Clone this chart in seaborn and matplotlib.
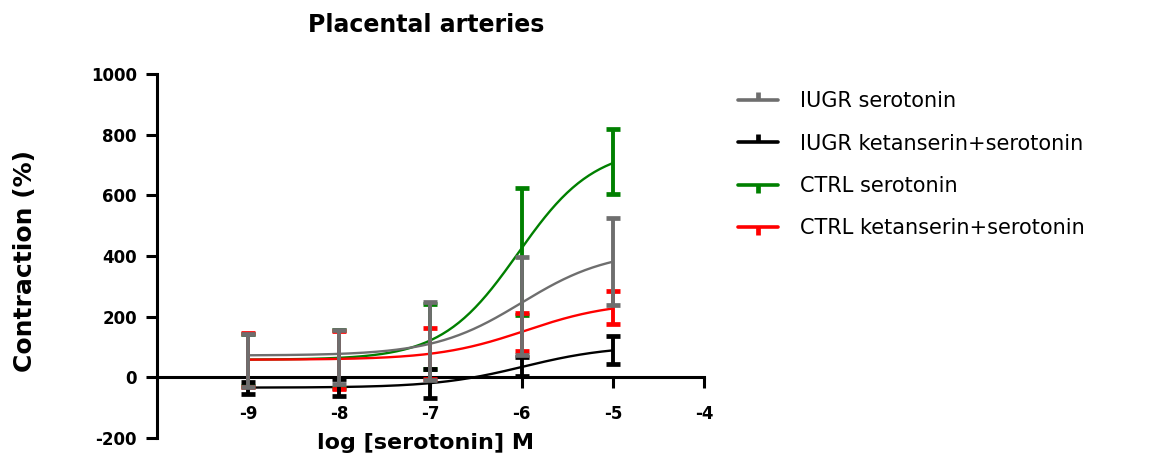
import numpy as np
import pandas as pd
import matplotlib
matplotlib.use("Agg")
import matplotlib.pyplot as plt
from matplotlib.lines import Line2D
import seaborn as sns

# ---------------- data ----------------
log_conc = [-9, -8, -7, -6, -5]
series_names = ["IUGR serotonin", "IUGR ketanserin+serotonin",
                "CTRL serotonin", "CTRL ketanserin+serotonin"]

iugr_ser_mean = [56, 67, 120, 235, 381]
iugr_ser_sem = [88, 88, 128, 162, 143]
iugr_ket_mean = [-34, -34, -21, 35, 90]
iugr_ket_sem = [20, 29, 47, 32, 45]
ctrl_ser_mean = [57, 60, 135, 414, 711]
ctrl_ser_sem = [87, 95, 106, 210, 108]
ctrl_ket_mean = [57, 58, 78, 150, 230]
ctrl_ket_sem = [90, 96, 83, 63, 53]

# four-parameter logistic fit (bottom, top, logEC50, Hill slope)
iugr_ser_fit = [72, 420, -6.00, 0.90]
iugr_ket_fit = [-34, 105, -5.98, 0.90]
ctrl_ser_fit = [58, 760, -6.04, 1.04]
ctrl_ket_fit = [58, 250, -5.96, 0.90]

colors = ["#6e6e6e", "#000000", "#008000", "#ff0000"]
x_ticks = [-9, -8, -7, -6, -5, -4]
y_ticks = [-200, 0, 200, 400, 600, 800, 1000]

means = [iugr_ser_mean, iugr_ket_mean, ctrl_ser_mean, ctrl_ket_mean]
sems = [iugr_ser_sem, iugr_ket_sem, ctrl_ser_sem, ctrl_ket_sem]
fits = [iugr_ser_fit, iugr_ket_fit, ctrl_ser_fit, ctrl_ket_fit]

# ---------------- figure ----------------
sns.set_theme(style="white")
plt.rcParams["font.family"] = ["DejaVu Sans"]
plt.rcParams["axes.unicode_minus"] = False
plt.rcParams["text.color"] = "black"
plt.rcParams["axes.labelcolor"] = "black"
plt.rcParams["xtick.color"] = "black"
plt.rcParams["ytick.color"] = "black"

fig = plt.figure(figsize=(11.61, 4.66), dpi=100)
ax = fig.add_axes([157 / 1161, 1 - 438 / 466, (704 - 157) / 1161, 364 / 466])

xs = np.linspace(min(log_conc), max(log_conc), 200)
rows = []
for name, (b, t, ec, h) in zip(series_names, fits):
    ys = b + (t - b) / (1 + 10 ** ((ec - xs) * h))
    rows.append(pd.DataFrame({"x": xs, "y": ys, "series": name}))
curves = pd.concat(rows, ignore_index=True)

draw_order = [2, 3, 1, 0]  # green, red, black, gray on top
zlevels = {2: 3.0, 3: 3.1, 1: 3.2, 0: 3.3}
palette = dict(zip(series_names, colors))
for i in draw_order:
    name = series_names[i]
    sns.lineplot(data=curves[curves["series"] == name], x="x", y="y",
                 color=palette[name], linewidth=1.7, ax=ax, legend=False,
                 zorder=zlevels[i])
    ax.errorbar(log_conc, means[i], yerr=sems[i], fmt="none",
                ecolor=colors[i], elinewidth=2.8, capsize=4.7, capthick=3.4,
                zorder=zlevels[i] + 0.5)

ax.set_xlim(-10, -4)
ax.set_ylim(-200, 1000)
ax.set_xticks(x_ticks)
ax.set_yticks(y_ticks)
for s in ["top", "right"]:
    ax.spines[s].set_visible(False)
ax.spines["bottom"].set_position(("data", 0))
for s in ["left", "bottom"]:
    ax.spines[s].set_linewidth(2.2)
    ax.spines[s].set_color("black")
ax.spines["bottom"].set_zorder(2)

ax.tick_params(axis="both", which="major", direction="out", length=8,
               width=2.2, colors="black", labelsize=12)
ax.tick_params(axis="x", pad=12)
ax.tick_params(axis="y", pad=6.5)
ax.xaxis.set_ticks_position("bottom")
ax.yaxis.set_ticks_position("left")
for lab in ax.get_xticklabels() + ax.get_yticklabels():
    lab.set_fontweight("bold")

ax.set_xlabel("log [serotonin] M", fontsize=16, fontweight="bold")
ax.xaxis.set_label_coords(0.491, 0.014)
ax.set_ylabel("Contraction (%)", fontsize=18, fontweight="bold")
ax.yaxis.set_label_coords(-0.219, 0.486)

fig.text(426 / 1161, 1 - 32 / 466, "Placental arteries", ha="center",
         va="baseline", fontsize=17, fontweight="bold")

handles = [Line2D([0], [0], color=c, lw=2.6, marker=(2 if i < 2 else 3),
                  markersize=6, markeredgewidth=3.4)
           for i, c in enumerate(colors)]
fig.legend(handles, series_names, loc="upper left",
           bbox_to_anchor=(738 / 1161, 1 - 91 / 466), frameon=False,
           borderaxespad=0, borderpad=0, fontsize=15, handlelength=1.92,
           handletextpad=1.06, labelspacing=1.08, numpoints=1)

fig.savefig("out.png", dpi=100)
